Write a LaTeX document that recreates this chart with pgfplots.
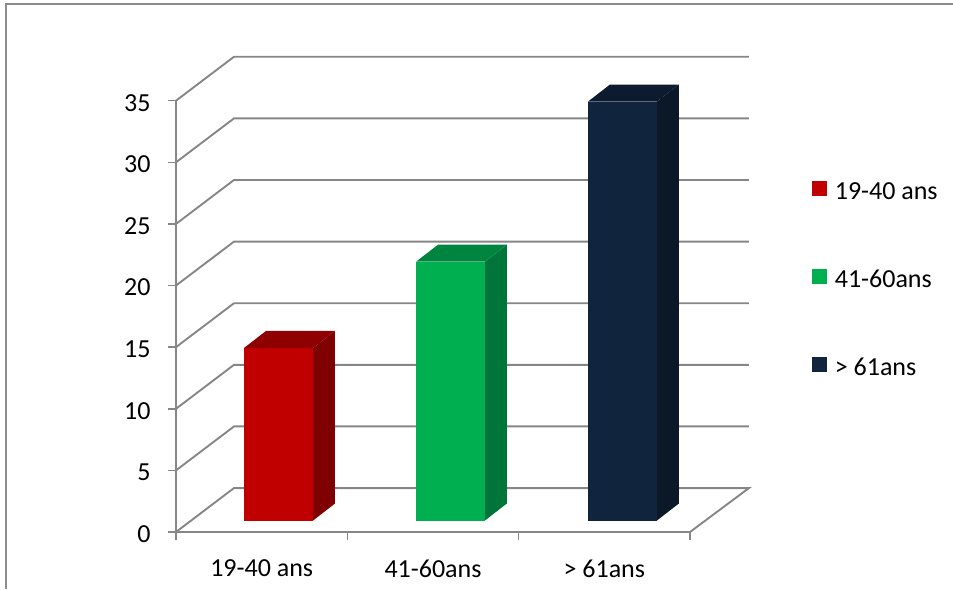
\documentclass[border=0pt]{standalone}
\usepackage{pgfplots}
\pgfplotsset{compat=1.18}
\usepackage{fontspec}
\setmainfont{Carlito}
\definecolor{gridgray}{HTML}{868686}
\definecolor{framegray}{HTML}{8C8C8C}
\definecolor{redfront}{HTML}{C00000}
\definecolor{redside}{HTML}{7F0000}
\definecolor{redtop}{HTML}{8F0000}
\definecolor{greenfront}{HTML}{00B050}
\definecolor{greenside}{HTML}{00753A}
\definecolor{greentop}{HTML}{008540}
\definecolor{navyfront}{HTML}{10243E}
\definecolor{navyside}{HTML}{0A1828}
\definecolor{navytop}{HTML}{0C1B2F}
\newcommand{\chartfont}{\fontsize{26}{29}\selectfont}
\pgfplotsset{
  swatch/.style={legend image code/.code={
    \fill[#1] (0pt,-15.5pt) rectangle (15pt,-0.5pt);}},
  facet/.style={fill=#1, draw=none, yshift=11.5pt, forget plot},
  wall/.style={draw=gridgray, line width=1.9pt, forget plot},
}
\begin{document}
\begin{tikzpicture}
\useasboundingbox (-176pt,-57pt) rectangle (777pt,532pt);
% Chart frame: only the top and left edges fall inside the page
\draw[framegray, line width=1.7pt] (-170pt,-57pt) -- (-170pt,528pt) -- (777pt,528pt);
\begin{axis}[
  scale only axis, width=514pt, height=431.3pt,
  xmin=0, xmax=3, ymin=0, ymax=35,
  clip=false,
  axis lines=left,
  axis line style={-, draw=gridgray, line width=2.2pt},
  tick align=outside,
  tick style={draw=gridgray, line width=1.6pt},
  major tick length=8pt,
  ytick={0,5,...,35},
  xtick={0,1,2,3},
  xticklabels={},
  extra x ticks={0.5,1.5,2.5},
  extra x tick labels={19-40 ans,41-60ans,> 61ans},
  extra x tick style={major tick length=0pt, xticklabel style={yshift=-24pt}},
  /pgf/number format/assume math mode=true,
  tick label style={font=\chartfont, text=black},
  yticklabel style={xshift=-14pt, yshift=-2pt},
  legend style={
    at={(1.237,0.814)}, anchor=north west,
    draw=none, fill=none, inner sep=0pt, outer sep=0pt,
    row sep=67.5pt,
    nodes={font=\chartfont, text=black, inner xsep=8pt, inner ysep=0pt},
  },
  legend cell align=left,
]
% Back walls and floor of the 3-D box
\addplot[wall] coordinates {(0,0) (0.3385,3.566) (3.344,3.566) (3,0)};
\addplot[wall] coordinates {(0,5) (0.3385,8.566) (3.344,8.566)};
\addplot[wall] coordinates {(0,10) (0.3385,13.566) (3.344,13.566)};
\addplot[wall] coordinates {(0,15) (0.3385,18.566) (3.344,18.566)};
\addplot[wall] coordinates {(0,20) (0.3385,23.566) (3.344,23.566)};
\addplot[wall] coordinates {(0,25) (0.3385,28.566) (3.344,28.566)};
\addplot[wall] coordinates {(0,30) (0.3385,33.566) (3.344,33.566)};
\addplot[wall] coordinates {(0,35) (0.3385,38.566) (3.344,38.566)};

% 19-40 ans: value 14
\addplot[facet=redside] coordinates {(0.800,0) (0.928,1.378) (0.928,15.378) (0.800,14)} --cycle;
\addplot[facet=redtop] coordinates {(0.397,14) (0.800,14) (0.928,15.378) (0.525,15.378)} --cycle;
\addplot[fill=redfront, draw=none, yshift=11.5pt, swatch=redfront] coordinates {(0.397,0) (0.397,14) (0.800,14) (0.800,0)} --cycle;
\addlegendentry{19-40 ans}

% 41-60ans: value 21
\addplot[facet=greenside] coordinates {(1.803,0) (1.931,1.378) (1.931,22.378) (1.803,21)} --cycle;
\addplot[facet=greentop] coordinates {(1.401,21) (1.803,21) (1.931,22.378) (1.529,22.378)} --cycle;
\addplot[fill=greenfront, draw=none, yshift=11.5pt, swatch=greenfront] coordinates {(1.401,0) (1.401,21) (1.803,21) (1.803,0)} --cycle;
\addlegendentry{41-60ans}

% > 61ans: value 34
\addplot[facet=navyside] coordinates {(2.807,0) (2.935,1.378) (2.935,35.378) (2.807,34)} --cycle;
\addplot[facet=navytop] coordinates {(2.405,34) (2.807,34) (2.935,35.378) (2.533,35.378)} --cycle;
\addplot[fill=navyfront, draw=none, yshift=11.5pt, swatch=navyfront] coordinates {(2.405,0) (2.405,34) (2.807,34) (2.807,0)} --cycle;
\addlegendentry{> 61ans}
\end{axis}
\end{tikzpicture}
\end{document}
